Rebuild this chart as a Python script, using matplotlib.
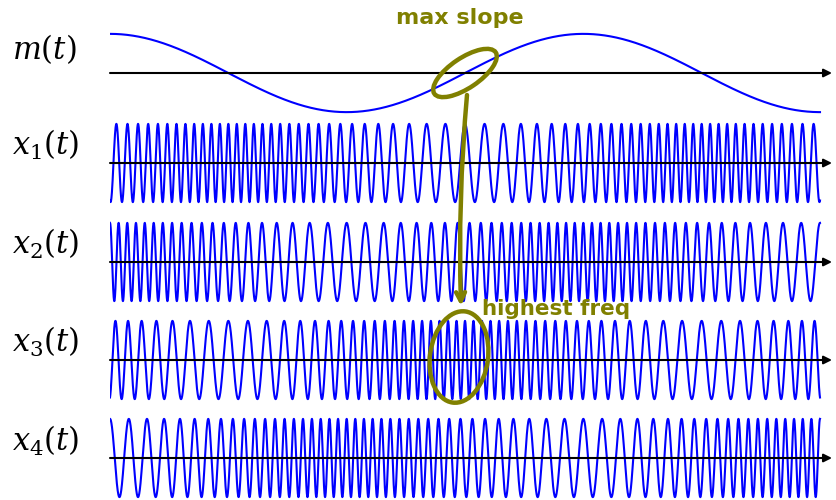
import numpy as np
import matplotlib.pyplot as plt
from matplotlib.patches import Ellipse

plt.rcParams['mathtext.fontset'] = 'dejavuserif'

# message m(t): 1.5 periods of a cosine, starting at its peak
msg_periods = 1.5
carrier = 40      # carrier cycles per message period
pm_dev = 16       # peak phase deviation (rad), x1 and x3
fm_dev = 15       # peak freq deviation (cycles per message period), x2 and x4

labels = ['$m(t)$', '$x_1(t)$', '$x_2(t)$', '$x_3(t)$', '$x_4(t)$']

t = np.linspace(0, msg_periods, 6000)
m = np.cos(2 * np.pi * t)
wc = 2 * np.pi * carrier * t
signals = [
    m,
    np.cos(wc - pm_dev * m),                          # PM, negative k
    np.cos(wc + fm_dev * np.sin(2 * np.pi * t)),      # FM
    np.cos(wc + pm_dev * m),                          # PM
    np.cos(wc - fm_dev * np.sin(2 * np.pi * t)),      # FM, negative k
]

# layout in pixels
W, H = 836, 500
row_y = [73, 163, 262, 360, 458]
label_base = [59, 155, 254, 352, 451]
left, right, tip = 110, 820, 832
olive = '#808000'

fig = plt.figure(figsize=(W / 100, H / 100), dpi=100)

for sig, yc in zip(signals, row_y):
    ax = fig.add_axes([left / W, (H - yc - 45) / H, (tip - left) / W, 90 / H])
    xmax = msg_periods * (tip - left) / (right - left)
    ax.set_xlim(0, xmax)
    ax.set_ylim(-1.15, 1.15)
    ax.plot(t, sig, color='#0000ff', lw=1.5)
    ax.annotate('', xy=(xmax, 0), xytext=(0, 0),
                arrowprops=dict(arrowstyle='-|>', color='black', lw=1.5,
                                mutation_scale=12, shrinkA=0, shrinkB=0))
    ax.axis('off')

# overlay in pixel coords for labels and hand-drawn marks
ov = fig.add_axes([0, 0, 1, 1])
ov.set_xlim(0, W)
ov.set_ylim(H, 0)
ov.axis('off')

for lab, yb in zip(labels, label_base):
    ov.text(12, yb, lab, fontsize=22, ha='left', va='baseline')

ov.add_patch(Ellipse((465, 73), 74, 30, angle=-34, fill=False, ec=olive, lw=3.2))
ov.annotate('', xy=(461, 306), xytext=(467, 95),
            arrowprops=dict(arrowstyle='->', color=olive, lw=3.2,
                            mutation_scale=16, shrinkA=0, shrinkB=0,
                            connectionstyle='arc3,rad=0.03'))
ov.add_patch(Ellipse((459, 357), 58, 92, angle=8, fill=False, ec=olive, lw=3.2))

ov.text(460, 24, 'max slope', fontsize=16, fontweight='bold', color=olive,
        ha='center', va='baseline')
ov.text(482, 315, 'highest freq', fontsize=15.5, fontweight='bold', color=olive,
        ha='left', va='baseline')

fig.savefig('out.png', dpi=100)
